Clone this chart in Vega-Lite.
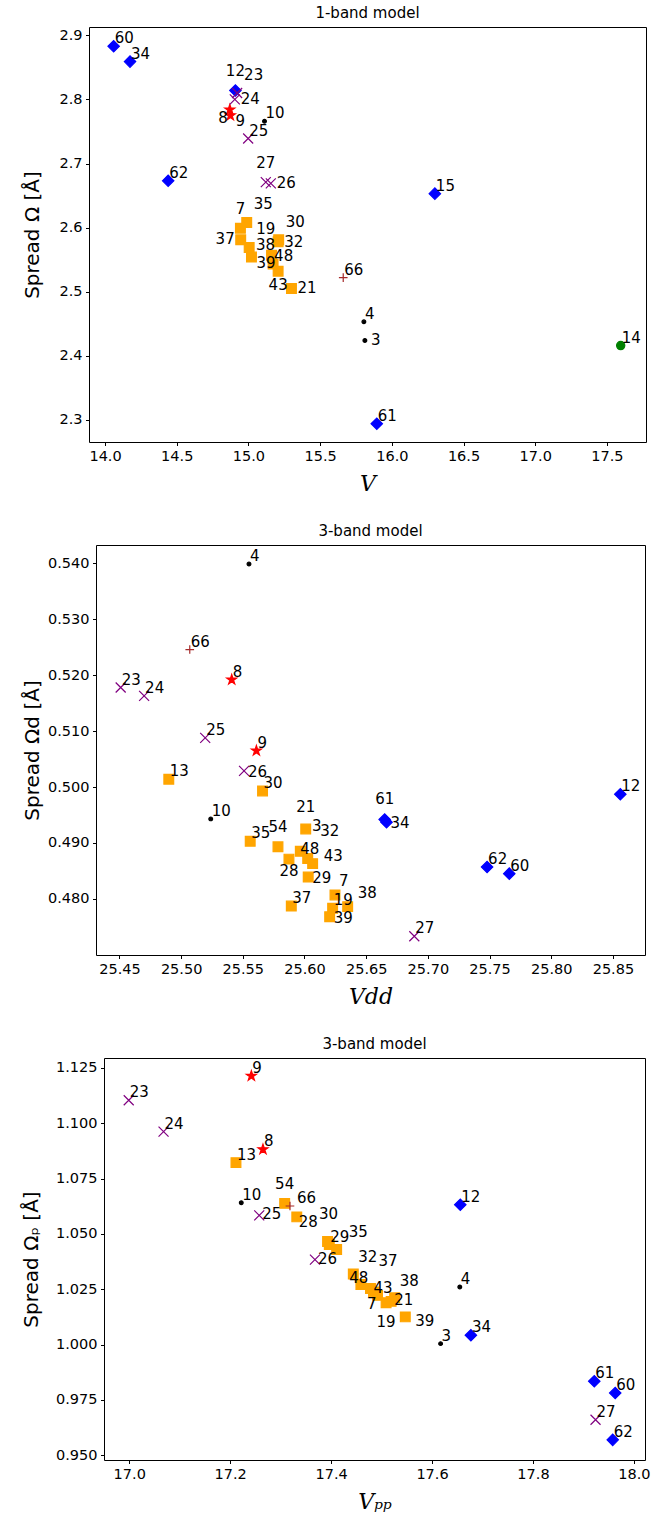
{
  "$schema": "https://vega.github.io/schema/vega-lite/v6.json",
  "background": "white",
  "padding": {"left": 20, "top": 5, "right": 5, "bottom": 5},
  "spacing": 28,
  "datasets": {
    "p1": [
      {"id": "10", "group": "A", "x": 15.112, "y": 2.766},
      {"id": "4", "group": "A", "x": 15.805, "y": 2.453},
      {"id": "3", "group": "A", "x": 15.812, "y": 2.424},
      {"id": "8", "group": "B", "x": 14.870, "y": 2.784},
      {"id": "9", "group": "B", "x": 14.874, "y": 2.775},
      {"id": "35", "group": "C", "x": 14.988, "y": 2.608},
      {"id": "7", "group": "C", "x": 14.944, "y": 2.599},
      {"id": "37", "group": "C", "x": 14.946, "y": 2.581},
      {"id": "30", "group": "C", "x": 15.211, "y": 2.581},
      {"id": "32", "group": "C", "x": 15.207, "y": 2.578},
      {"id": "19", "group": "C", "x": 15.005, "y": 2.569},
      {"id": "38", "group": "C", "x": 15.161, "y": 2.557},
      {"id": "39", "group": "C", "x": 15.021, "y": 2.554},
      {"id": "48", "group": "C", "x": 15.172, "y": 2.543},
      {"id": "43", "group": "C", "x": 15.207, "y": 2.532},
      {"id": "21", "group": "C", "x": 15.300, "y": 2.505},
      {"id": "60", "group": "D", "x": 14.06, "y": 2.883},
      {"id": "34", "group": "D", "x": 14.174, "y": 2.859},
      {"id": "12", "group": "D", "x": 14.909, "y": 2.814},
      {"id": "62", "group": "D", "x": 14.44, "y": 2.673},
      {"id": "15", "group": "D", "x": 16.30, "y": 2.653},
      {"id": "61", "group": "D", "x": 15.895, "y": 2.294},
      {"id": "23", "group": "E", "x": 14.921, "y": 2.810},
      {"id": "24", "group": "E", "x": 14.905, "y": 2.800},
      {"id": "25", "group": "E", "x": 14.998, "y": 2.739},
      {"id": "27", "group": "E", "x": 15.121, "y": 2.671},
      {"id": "26", "group": "E", "x": 15.156, "y": 2.669},
      {"id": "66", "group": "F", "x": 15.661, "y": 2.522},
      {"id": "14", "group": "G", "x": 17.596, "y": 2.416}
    ],
    "p2": [
      {"id": "4", "group": "A", "x": 25.555, "y": 0.5399},
      {"id": "10", "group": "A", "x": 25.524, "y": 0.4943},
      {"id": "3", "group": "A", "x": 25.602, "y": 0.4923},
      {"id": "8", "group": "B", "x": 25.541, "y": 0.5192},
      {"id": "9", "group": "B", "x": 25.561, "y": 0.5065},
      {"id": "13", "group": "C", "x": 25.490, "y": 0.5014},
      {"id": "30", "group": "C", "x": 25.566, "y": 0.4993},
      {"id": "21", "group": "C", "x": 25.601, "y": 0.4925},
      {"id": "35", "group": "C", "x": 25.556, "y": 0.4903},
      {"id": "54", "group": "C", "x": 25.5785, "y": 0.4893},
      {"id": "32", "group": "C", "x": 25.5966, "y": 0.4885},
      {"id": "48", "group": "C", "x": 25.6026, "y": 0.4872},
      {"id": "28", "group": "C", "x": 25.5874, "y": 0.4871},
      {"id": "43", "group": "C", "x": 25.6066, "y": 0.4863},
      {"id": "29", "group": "C", "x": 25.603, "y": 0.4839},
      {"id": "7", "group": "C", "x": 25.6247, "y": 0.4807},
      {"id": "37", "group": "C", "x": 25.5893, "y": 0.4787},
      {"id": "38", "group": "C", "x": 25.635, "y": 0.4786},
      {"id": "19", "group": "C", "x": 25.6228, "y": 0.4783},
      {"id": "39", "group": "C", "x": 25.6204, "y": 0.4768},
      {"id": "12", "group": "D", "x": 25.856, "y": 0.4987},
      {"id": "61", "group": "D", "x": 25.665, "y": 0.4942},
      {"id": "34", "group": "D", "x": 25.6665, "y": 0.4937},
      {"id": "62", "group": "D", "x": 25.748, "y": 0.4857},
      {"id": "60", "group": "D", "x": 25.766, "y": 0.4845},
      {"id": "23", "group": "E", "x": 25.451, "y": 0.5178},
      {"id": "24", "group": "E", "x": 25.470, "y": 0.5163},
      {"id": "25", "group": "E", "x": 25.5195, "y": 0.5088},
      {"id": "26", "group": "E", "x": 25.551, "y": 0.5029},
      {"id": "27", "group": "E", "x": 25.689, "y": 0.4733},
      {"id": "66", "group": "F", "x": 25.507, "y": 0.5246}
    ],
    "p3": [
      {"id": "10", "group": "A", "x": 17.222, "y": 1.0641},
      {"id": "4", "group": "A", "x": 17.655, "y": 1.026},
      {"id": "3", "group": "A", "x": 17.617, "y": 1.0004},
      {"id": "9", "group": "B", "x": 17.242, "y": 1.1214},
      {"id": "8", "group": "B", "x": 17.265, "y": 1.0882},
      {"id": "13", "group": "C", "x": 17.2115, "y": 1.0822},
      {"id": "54", "group": "C", "x": 17.308, "y": 1.0638},
      {"id": "28", "group": "C", "x": 17.332, "y": 1.0577},
      {"id": "30", "group": "C", "x": 17.393, "y": 1.0466},
      {"id": "29", "group": "C", "x": 17.3964, "y": 1.0452},
      {"id": "35", "group": "C", "x": 17.411, "y": 1.0429},
      {"id": "32", "group": "C", "x": 17.444, "y": 1.0319},
      {"id": "48", "group": "C", "x": 17.459, "y": 1.0271},
      {"id": "43", "group": "C", "x": 17.478, "y": 1.0253},
      {"id": "37", "group": "C", "x": 17.484, "y": 1.0238},
      {"id": "7", "group": "C", "x": 17.492, "y": 1.0222},
      {"id": "38", "group": "C", "x": 17.526, "y": 1.0211},
      {"id": "21", "group": "C", "x": 17.519, "y": 1.0195},
      {"id": "19", "group": "C", "x": 17.509, "y": 1.0189},
      {"id": "39", "group": "C", "x": 17.547, "y": 1.0125},
      {"id": "12", "group": "D", "x": 17.656, "y": 1.0632},
      {"id": "34", "group": "D", "x": 17.677, "y": 1.0042},
      {"id": "61", "group": "D", "x": 17.9215, "y": 0.9834},
      {"id": "60", "group": "D", "x": 17.963, "y": 0.9781},
      {"id": "62", "group": "D", "x": 17.958, "y": 0.9569},
      {"id": "23", "group": "E", "x": 16.999, "y": 1.1104},
      {"id": "24", "group": "E", "x": 17.068, "y": 1.0962},
      {"id": "25", "group": "E", "x": 17.2576, "y": 1.0584},
      {"id": "26", "group": "E", "x": 17.368, "y": 1.0384},
      {"id": "27", "group": "E", "x": 17.924, "y": 0.966},
      {"id": "66", "group": "F", "x": 17.3185, "y": 1.0626}
    ]
  },
  "vconcat": [
    {
      "spacing": 0,
      "hconcat": [
        {"width": 1, "height": 1, "data": {"values": []}, "mark": "point", "view": {"stroke": null}},
        {
          "title": "1-band model",
          "width": 557,
          "height": 415,
          "data": {"name": "p1"},
          "encoding": {
            "x": {"field": "x", "type": "quantitative", "scale": {"domain": [13.888, 17.7725], "nice": false, "zero": false}, "axis": {"title": "V", "values": [14, 14.5, 15, 15.5, 16, 16.5, 17, 17.5], "format": ".1f"}},
            "y": {"field": "y", "type": "quantitative", "scale": {"domain": [2.2655, 2.913], "nice": false, "zero": false}, "axis": {"title": "Spread Ω [Å]", "values": [2.3, 2.4, 2.5, 2.6, 2.7, 2.8, 2.9], "format": ".1f", "minExtent": 30, "maxExtent": 30, "titlePadding": 16.7}}
          },
          "layer": [
            {
              "mark": {"type": "point", "filled": true, "opacity": 1, "strokeWidth": 1.2},
              "encoding": {
                "shape": {"field": "group", "type": "nominal", "legend": null, "scale": {"domain": ["A", "B", "C", "D", "E", "F", "G"], "range": ["circle", "M0,-1L0.2245,-0.309L0.951,-0.309L0.363,0.118L0.588,0.809L0,0.382L-0.588,0.809L-0.363,0.118L-0.951,-0.309L-0.2245,-0.309Z", "square", "diamond", "M-1,-1L1,1M-1,1L1,-1", "M-1,0L1,0M0,-1L0,1", "circle"]}},
                "color": {"field": "group", "type": "nominal", "legend": null, "scale": {"domain": ["A", "B", "C", "D", "E", "F", "G"], "range": ["#000000", "#ff0000", "#ffa500", "#0000ff", "#800080", "#a52a2a", "#008000"]}},
                "stroke": {"field": "group", "type": "nominal", "legend": null, "scale": {"domain": ["A", "B", "C", "D", "E", "F", "G"], "range": ["#000000", "#ff0000", "#ffa500", "#0000ff", "#800080", "#a52a2a", "#008000"]}},
                "size": {"field": "group", "type": "nominal", "legend": null, "scale": {"type": "ordinal", "domain": ["A", "B", "C", "D", "E", "F", "G"], "range": [14, 110, 95, 130, 100, 75, 68]}}
              }
            },
            {"transform": [{"filter": {"field": "id", "oneOf": ["60", "34", "10", "25", "62", "66", "4", "14", "61", "15", "48"]}}], "mark": {"type": "text", "align": "left", "baseline": "middle", "dx": 1, "dy": -8, "fontSize": 15, "font": "DejaVu Sans", "color": "black"}, "encoding": {"text": {"field": "id", "type": "nominal"}}},
            {"transform": [{"filter": {"field": "id", "oneOf": ["12", "27", "7"]}}], "mark": {"type": "text", "align": "center", "baseline": "middle", "dx": 0, "dy": -19, "fontSize": 15, "font": "DejaVu Sans", "color": "black"}, "encoding": {"text": {"field": "id", "type": "nominal"}}},
            {"transform": [{"filter": {"field": "id", "oneOf": ["23", "35", "19", "30"]}}], "mark": {"type": "text", "align": "left", "baseline": "middle", "dx": 7, "dy": -18, "fontSize": 15, "font": "DejaVu Sans", "color": "black"}, "encoding": {"text": {"field": "id", "type": "nominal"}}},
            {"transform": [{"filter": {"field": "id", "oneOf": ["24", "32", "3", "26", "21"]}}], "mark": {"type": "text", "align": "left", "baseline": "middle", "dx": 6, "dy": 0, "fontSize": 15, "font": "DejaVu Sans", "color": "black"}, "encoding": {"text": {"field": "id", "type": "nominal"}}},
            {"transform": [{"filter": {"field": "id", "oneOf": ["37"]}}], "mark": {"type": "text", "align": "right", "baseline": "middle", "dx": -6, "dy": -1, "fontSize": 15, "font": "DejaVu Sans", "color": "black"}, "encoding": {"text": {"field": "id", "type": "nominal"}}},
            {"transform": [{"filter": {"field": "id", "oneOf": ["38"]}}], "mark": {"type": "text", "align": "center", "baseline": "middle", "dx": -6, "dy": -10, "fontSize": 15, "font": "DejaVu Sans", "color": "black"}, "encoding": {"text": {"field": "id", "type": "nominal"}}},
            {"transform": [{"filter": {"field": "id", "oneOf": ["8"]}}], "mark": {"type": "text", "align": "right", "baseline": "middle", "dx": -2, "dy": 8, "fontSize": 15, "font": "DejaVu Sans", "color": "black"}, "encoding": {"text": {"field": "id", "type": "nominal"}}},
            {"transform": [{"filter": {"field": "id", "oneOf": ["9", "39"]}}], "mark": {"type": "text", "align": "left", "baseline": "middle", "dx": 5, "dy": 6, "fontSize": 15, "font": "DejaVu Sans", "color": "black"}, "encoding": {"text": {"field": "id", "type": "nominal"}}},
            {"transform": [{"filter": {"field": "id", "oneOf": ["43"]}}], "mark": {"type": "text", "align": "center", "baseline": "middle", "dx": 0, "dy": 14, "fontSize": 15, "font": "DejaVu Sans", "color": "black"}, "encoding": {"text": {"field": "id", "type": "nominal"}}}
          ]
        }
      ]
    },
    {
      "spacing": 0,
      "hconcat": [
        {"width": 1, "height": 1, "data": {"values": []}, "mark": "point", "view": {"stroke": null}},
        {
          "title": "3-band model",
          "width": 549,
          "height": 410,
          "data": {"name": "p2"},
          "encoding": {
            "x": {"field": "x", "type": "quantitative", "scale": {"domain": [25.431, 25.876], "nice": false, "zero": false}, "axis": {"title": "Vdd", "values": [25.45, 25.5, 25.55, 25.6, 25.65, 25.7, 25.75, 25.8, 25.85], "format": ".2f"}},
            "y": {"field": "y", "type": "quantitative", "scale": {"domain": [0.46995, 0.5433], "nice": false, "zero": false}, "axis": {"title": "Spread Ωd [Å]", "values": [0.48, 0.49, 0.5, 0.51, 0.52, 0.53, 0.54], "format": ".3f", "minExtent": 45, "maxExtent": 45, "titlePadding": 9}}
          },
          "layer": [
            {
              "mark": {"type": "point", "filled": true, "opacity": 1, "strokeWidth": 1.2},
              "encoding": {
                "shape": {"field": "group", "type": "nominal", "legend": null, "scale": {"domain": ["A", "B", "C", "D", "E", "F", "G"], "range": ["circle", "M0,-1L0.2245,-0.309L0.951,-0.309L0.363,0.118L0.588,0.809L0,0.382L-0.588,0.809L-0.363,0.118L-0.951,-0.309L-0.2245,-0.309Z", "square", "diamond", "M-1,-1L1,1M-1,1L1,-1", "M-1,0L1,0M0,-1L0,1", "circle"]}},
                "color": {"field": "group", "type": "nominal", "legend": null, "scale": {"domain": ["A", "B", "C", "D", "E", "F", "G"], "range": ["#000000", "#ff0000", "#ffa500", "#0000ff", "#800080", "#a52a2a", "#008000"]}},
                "stroke": {"field": "group", "type": "nominal", "legend": null, "scale": {"domain": ["A", "B", "C", "D", "E", "F", "G"], "range": ["#000000", "#ff0000", "#ffa500", "#0000ff", "#800080", "#a52a2a", "#008000"]}},
                "size": {"field": "group", "type": "nominal", "legend": null, "scale": {"type": "ordinal", "domain": ["A", "B", "C", "D", "E", "F", "G"], "range": [14, 110, 95, 130, 100, 75, 68]}}
              }
            },
            {"transform": [{"filter": {"field": "id", "oneOf": ["4", "66", "8", "23", "24", "25", "9", "13", "30", "10", "35", "19", "37", "62", "60", "12", "27"]}}], "mark": {"type": "text", "align": "left", "baseline": "middle", "dx": 1, "dy": -8, "fontSize": 15, "font": "DejaVu Sans", "color": "black"}, "encoding": {"text": {"field": "id", "type": "nominal"}}},
            {"transform": [{"filter": {"field": "id", "oneOf": ["3"]}}], "mark": {"type": "text", "align": "left", "baseline": "middle", "dx": 5, "dy": -4, "fontSize": 15, "font": "DejaVu Sans", "color": "black"}, "encoding": {"text": {"field": "id", "type": "nominal"}}},
            {"transform": [{"filter": {"field": "id", "oneOf": ["7"]}}], "mark": {"type": "text", "align": "left", "baseline": "middle", "dx": 4, "dy": -14, "fontSize": 15, "font": "DejaVu Sans", "color": "black"}, "encoding": {"text": {"field": "id", "type": "nominal"}}},
            {"transform": [{"filter": {"field": "id", "oneOf": ["21"]}}], "mark": {"type": "text", "align": "center", "baseline": "middle", "dx": 0, "dy": -22, "fontSize": 15, "font": "DejaVu Sans", "color": "black"}, "encoding": {"text": {"field": "id", "type": "nominal"}}},
            {"transform": [{"filter": {"field": "id", "oneOf": ["54", "61"]}}], "mark": {"type": "text", "align": "center", "baseline": "middle", "dx": 0, "dy": -20, "fontSize": 15, "font": "DejaVu Sans", "color": "black"}, "encoding": {"text": {"field": "id", "type": "nominal"}}},
            {"transform": [{"filter": {"field": "id", "oneOf": ["32"]}}], "mark": {"type": "text", "align": "left", "baseline": "middle", "dx": 20, "dy": -20, "fontSize": 15, "font": "DejaVu Sans", "color": "black"}, "encoding": {"text": {"field": "id", "type": "nominal"}}},
            {"transform": [{"filter": {"field": "id", "oneOf": ["38"]}}], "mark": {"type": "text", "align": "left", "baseline": "middle", "dx": 10, "dy": -14, "fontSize": 15, "font": "DejaVu Sans", "color": "black"}, "encoding": {"text": {"field": "id", "type": "nominal"}}},
            {"transform": [{"filter": {"field": "id", "oneOf": ["48"]}}], "mark": {"type": "text", "align": "center", "baseline": "middle", "dx": 2, "dy": -10, "fontSize": 15, "font": "DejaVu Sans", "color": "black"}, "encoding": {"text": {"field": "id", "type": "nominal"}}},
            {"transform": [{"filter": {"field": "id", "oneOf": ["43"]}}], "mark": {"type": "text", "align": "left", "baseline": "middle", "dx": 11, "dy": -8, "fontSize": 15, "font": "DejaVu Sans", "color": "black"}, "encoding": {"text": {"field": "id", "type": "nominal"}}},
            {"transform": [{"filter": {"field": "id", "oneOf": ["28"]}}], "mark": {"type": "text", "align": "center", "baseline": "middle", "dx": 0, "dy": 12, "fontSize": 15, "font": "DejaVu Sans", "color": "black"}, "encoding": {"text": {"field": "id", "type": "nominal"}}},
            {"transform": [{"filter": {"field": "id", "oneOf": ["29", "39", "34", "26"]}}], "mark": {"type": "text", "align": "left", "baseline": "middle", "dx": 4, "dy": 1, "fontSize": 15, "font": "DejaVu Sans", "color": "black"}, "encoding": {"text": {"field": "id", "type": "nominal"}}}
          ]
        }
      ]
    },
    {
      "spacing": 0,
      "hconcat": [
        {"width": 1, "height": 1, "data": {"values": []}, "mark": "point", "view": {"stroke": null}},
        {
          "title": "3-band model",
          "width": 541,
          "height": 402,
          "data": {"name": "p3"},
          "encoding": {
            "x": {"field": "x", "type": "quantitative", "scale": {"domain": [16.95, 18.022], "nice": false, "zero": false}, "axis": {"title": "Vₚₚ", "values": [17, 17.2, 17.4, 17.6, 17.8, 18], "format": ".1f"}},
            "y": {"field": "y", "type": "quantitative", "scale": {"domain": [0.9478, 1.1295], "nice": false, "zero": false}, "axis": {"title": "Spread Ωₚ [Å]", "values": [0.95, 0.975, 1, 1.025, 1.05, 1.075, 1.1, 1.125], "format": ".3f", "minExtent": 45, "maxExtent": 45, "titlePadding": 17.3}}
          },
          "layer": [
            {
              "mark": {"type": "point", "filled": true, "opacity": 1, "strokeWidth": 1.2},
              "encoding": {
                "shape": {"field": "group", "type": "nominal", "legend": null, "scale": {"domain": ["A", "B", "C", "D", "E", "F", "G"], "range": ["circle", "M0,-1L0.2245,-0.309L0.951,-0.309L0.363,0.118L0.588,0.809L0,0.382L-0.588,0.809L-0.363,0.118L-0.951,-0.309L-0.2245,-0.309Z", "square", "diamond", "M-1,-1L1,1M-1,1L1,-1", "M-1,0L1,0M0,-1L0,1", "circle"]}},
                "color": {"field": "group", "type": "nominal", "legend": null, "scale": {"domain": ["A", "B", "C", "D", "E", "F", "G"], "range": ["#000000", "#ff0000", "#ffa500", "#0000ff", "#800080", "#a52a2a", "#008000"]}},
                "stroke": {"field": "group", "type": "nominal", "legend": null, "scale": {"domain": ["A", "B", "C", "D", "E", "F", "G"], "range": ["#000000", "#ff0000", "#ffa500", "#0000ff", "#800080", "#a52a2a", "#008000"]}},
                "size": {"field": "group", "type": "nominal", "legend": null, "scale": {"type": "ordinal", "domain": ["A", "B", "C", "D", "E", "F", "G"], "range": [14, 110, 95, 130, 100, 75, 68]}}
              }
            },
            {"transform": [{"filter": {"field": "id", "oneOf": ["9", "23", "24", "8", "13", "10", "29", "12", "4", "3", "34", "61", "60", "27", "62"]}}], "mark": {"type": "text", "align": "left", "baseline": "middle", "dx": 1, "dy": -8, "fontSize": 15, "font": "DejaVu Sans", "color": "black"}, "encoding": {"text": {"field": "id", "type": "nominal"}}},
            {"transform": [{"filter": {"field": "id", "oneOf": ["54"]}}], "mark": {"type": "text", "align": "center", "baseline": "middle", "dx": 0, "dy": -19, "fontSize": 15, "font": "DejaVu Sans", "color": "black"}, "encoding": {"text": {"field": "id", "type": "nominal"}}},
            {"transform": [{"filter": {"field": "id", "oneOf": ["66"]}}], "mark": {"type": "text", "align": "left", "baseline": "middle", "dx": 7, "dy": -8, "fontSize": 15, "font": "DejaVu Sans", "color": "black"}, "encoding": {"text": {"field": "id", "type": "nominal"}}},
            {"transform": [{"filter": {"field": "id", "oneOf": ["25", "26", "43", "21"]}}], "mark": {"type": "text", "align": "left", "baseline": "middle", "dx": 3, "dy": -1, "fontSize": 15, "font": "DejaVu Sans", "color": "black"}, "encoding": {"text": {"field": "id", "type": "nominal"}}},
            {"transform": [{"filter": {"field": "id", "oneOf": ["28"]}}], "mark": {"type": "text", "align": "left", "baseline": "middle", "dx": 2, "dy": 5, "fontSize": 15, "font": "DejaVu Sans", "color": "black"}, "encoding": {"text": {"field": "id", "type": "nominal"}}},
            {"transform": [{"filter": {"field": "id", "oneOf": ["39"]}}], "mark": {"type": "text", "align": "left", "baseline": "middle", "dx": 10, "dy": 4, "fontSize": 15, "font": "DejaVu Sans", "color": "black"}, "encoding": {"text": {"field": "id", "type": "nominal"}}},
            {"transform": [{"filter": {"field": "id", "oneOf": ["30"]}}], "mark": {"type": "text", "align": "center", "baseline": "middle", "dx": 1, "dy": -27, "fontSize": 15, "font": "DejaVu Sans", "color": "black"}, "encoding": {"text": {"field": "id", "type": "nominal"}}},
            {"transform": [{"filter": {"field": "id", "oneOf": ["35"]}}], "mark": {"type": "text", "align": "left", "baseline": "middle", "dx": 12, "dy": -18, "fontSize": 15, "font": "DejaVu Sans", "color": "black"}, "encoding": {"text": {"field": "id", "type": "nominal"}}},
            {"transform": [{"filter": {"field": "id", "oneOf": ["32", "38"]}}], "mark": {"type": "text", "align": "left", "baseline": "middle", "dx": 5, "dy": -17, "fontSize": 15, "font": "DejaVu Sans", "color": "black"}, "encoding": {"text": {"field": "id", "type": "nominal"}}},
            {"transform": [{"filter": {"field": "id", "oneOf": ["37"]}}], "mark": {"type": "text", "align": "left", "baseline": "middle", "dx": 5, "dy": -31, "fontSize": 15, "font": "DejaVu Sans", "color": "black"}, "encoding": {"text": {"field": "id", "type": "nominal"}}},
            {"transform": [{"filter": {"field": "id", "oneOf": ["48"]}}], "mark": {"type": "text", "align": "center", "baseline": "middle", "dx": -2, "dy": -7, "fontSize": 15, "font": "DejaVu Sans", "color": "black"}, "encoding": {"text": {"field": "id", "type": "nominal"}}},
            {"transform": [{"filter": {"field": "id", "oneOf": ["7"]}}], "mark": {"type": "text", "align": "right", "baseline": "middle", "dx": -1, "dy": 9, "fontSize": 15, "font": "DejaVu Sans", "color": "black"}, "encoding": {"text": {"field": "id", "type": "nominal"}}},
            {"transform": [{"filter": {"field": "id", "oneOf": ["19"]}}], "mark": {"type": "text", "align": "center", "baseline": "middle", "dx": 0, "dy": 19, "fontSize": 15, "font": "DejaVu Sans", "color": "black"}, "encoding": {"text": {"field": "id", "type": "nominal"}}}
          ]
        }
      ]
    }
  ],
  "resolve": {"scale": {"x": "independent", "y": "independent", "color": "independent", "shape": "independent", "size": "independent", "stroke": "independent"}},
  "config": {
    "font": "DejaVu Sans",
    "view": {"stroke": "black", "strokeWidth": 1},
    "axis": {"grid": false, "domain": false, "tickColor": "black", "tickSize": 3.5, "tickWidth": 1, "labelFont": "DejaVu Sans", "labelFontSize": 14.5, "labelColor": "black", "labelPadding": 3.5, "titleColor": "black", "titleFontWeight": "normal", "labelFlush": false, "labelOverlap": false},
    "axisX": {"titleFont": "DejaVu Serif", "titleFontStyle": "italic", "titleFontSize": 22, "titlePadding": 11},
    "axisY": {"titleFont": "DejaVu Sans", "titleFontSize": 20},
    "title": {"fontSize": 15, "fontWeight": "normal", "font": "DejaVu Sans", "color": "black", "offset": 6.5}
  }
}
